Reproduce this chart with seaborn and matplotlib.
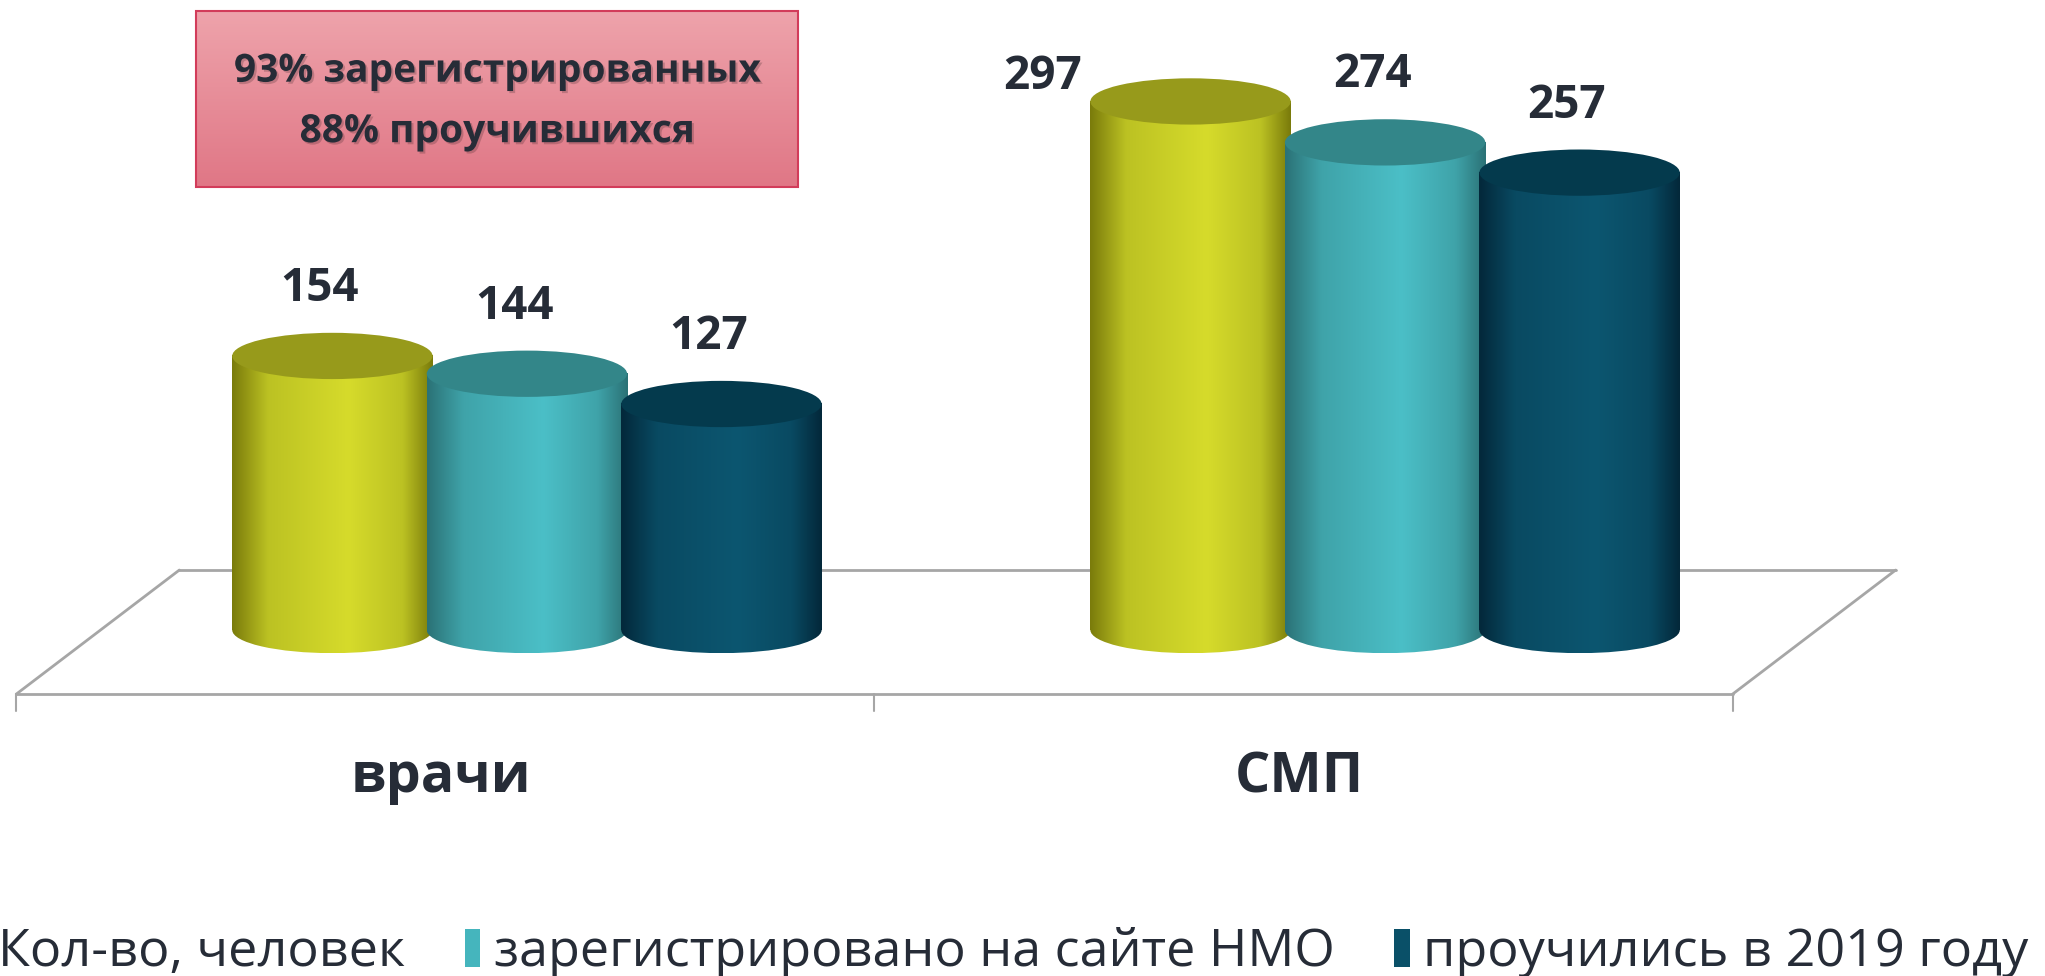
import numpy as np
import pandas as pd
import seaborn as sns
import matplotlib.pyplot as plt
import matplotlib.patheffects as pe
from matplotlib.colors import LinearSegmentedColormap
from matplotlib.patches import Ellipse, Rectangle, Patch

# данные
categories = ["врачи", "СМП"]
series = ["Кол-во, человек", "зарегистрировано на сайте НМО", "проучились в 2019 году"]
vrachi = [154, 144, 127]
smp = [297, 274, 257]
box_lines = ["93% зарегистрированных", "88% проучившихся"]

colors = ["#CDD42A", "#45B5BD", "#0A5068"]
# dark edge, mid, highlight, top of cylinder
shades = [
    ("#7A7B0B", "#BCC223", "#D6DB2B", "#979A1B"),
    ("#2B7276", "#3FA3A9", "#4BBFC7", "#338689"),
    ("#03283A", "#094A62", "#0C5670", "#043A4D"),
]
txt_col = "#262C37"

rows = []
for i, s in enumerate(series):
    rows.append((categories[0], s, vrachi[i]))
    rows.append((categories[1], s, smp[i]))
df = pd.DataFrame(rows, columns=["cat", "series", "val"])

sns.set_style("white")
plt.rcParams["font.family"] = ["Open Sans", "DejaVu Sans"]

fig = plt.figure(figsize=(20.45, 9.76), dpi=100)
ax = fig.add_axes([0, 0, 1, 1])
sns.barplot(data=df, x="cat", y="val", hue="series", palette=colors,
            width=0.68, saturation=1, legend=False, ax=ax)

E = 26  # высота эллипса (в единицах данных)
top_val = max(vrachi + smp)

for k, cont in enumerate(ax.containers):
    dark, mid, light, top = shades[k]
    cmap = LinearSegmentedColormap.from_list(
        "cyl", [(0, dark), (0.18, mid), (0.58, light), (0.85, mid), (1, dark)])
    grad = cmap(np.linspace(0, 1, 256))[None, :, :]
    for bar in cont:
        bar.set_visible(False)
        x, w, h = bar.get_x(), bar.get_width(), bar.get_height()
        cx = x + w / 2
        w2 = w * 1.03
        x0 = cx - w2 / 2
        z = 3 + k
        ax.imshow(grad, extent=[x0, x0 + w2, 0, h], aspect="auto", zorder=z)
        ell = Ellipse((cx, 0), w2, E, transform=ax.transData)
        im2 = ax.imshow(grad, extent=[x0, x0 + w2, -E / 2, E / 2], aspect="auto", zorder=z)
        im2.set_clip_path(ell)
        ax.add_patch(Ellipse((cx, h), w2, E, facecolor=top, edgecolor="none", zorder=z + 0.5))
        # подписи
        if h == top_val:
            lx, ly = cx - 0.172, h + 14
        else:
            lx, ly = cx - 0.015, h + 38
        ax.text(lx, ly, f"{int(h)}", ha="center", va="center", fontsize=33,
                fontweight="bold", color=txt_col, zorder=10)

# пол
depth = 0.095
fl_back, fl_front, tick_bot = 33.7, -36, -45.5
gc = "#A6A6A6"
ax.plot([-0.5 + depth, 1.5 + depth], [fl_back, fl_back], color=gc, lw=2, zorder=1)
ax.plot([-0.5 - depth, 1.5 - depth], [fl_front, fl_front], color=gc, lw=2, zorder=1)
ax.plot([-0.5 - depth, -0.5 + depth], [fl_front, fl_back], color=gc, lw=2, zorder=1)
ax.plot([1.5 - depth, 1.5 + depth], [fl_front, fl_back], color=gc, lw=2, zorder=1)
for t in [-0.5, 0.5, 1.5]:
    ax.plot([t - depth, t - depth], [fl_front, tick_bot], color=gc, lw=1.5, zorder=1)

for i, c in enumerate(categories):
    ax.text(i - 0.1, -83, c, ha="center", va="center", fontsize=40,
            fontweight="bold", color=txt_col)

# розовая плашка
bx0, bx1, by0, by1 = -0.386, 0.316, 249, 348
pink = LinearSegmentedColormap.from_list("pink", ["#E07786", "#EEA3AB"])
ax.imshow(pink(np.linspace(0, 1, 64))[:, None, :], extent=[bx0, bx1, by0, by1],
          origin="lower", aspect="auto", zorder=2)
ax.add_patch(Rectangle((bx0, by0), bx1 - bx0, by1 - by0, facecolor="none",
                       edgecolor="#D23C5A", lw=1.5, zorder=2.5))
shadow = [pe.SimplePatchShadow(offset=(1.5, -1.5), shadow_rgbFace="black", alpha=0.18), pe.Normal()]
ax.text((bx0 + bx1) / 2, 314, box_lines[0], ha="center", va="center", fontsize=28,
        fontweight="bold", color=txt_col, path_effects=shadow, zorder=3)
ax.text((bx0 + bx1) / 2, 280, box_lines[1], ha="center", va="center", fontsize=28,
        fontweight="bold", color=txt_col, path_effects=shadow, zorder=3)

ax.set_xlim(-0.614, 1.769)
ax.set_ylim(-194.4, 354)
ax.axis("off")

handles = [Patch(facecolor="none", edgecolor="none"),
           Patch(facecolor=colors[1], edgecolor="none"),
           Patch(facecolor=colors[2], edgecolor="none")]
fig.legend(handles, series, loc="center left", bbox_to_anchor=(-0.015, 0.024),
           ncol=3, frameon=False, fontsize=37.5, labelcolor=txt_col,
           handlelength=0.3, handleheight=0.75, handletextpad=0.25,
           columnspacing=1.15, borderpad=0, borderaxespad=0)

fig.savefig("out.png", dpi=100)
